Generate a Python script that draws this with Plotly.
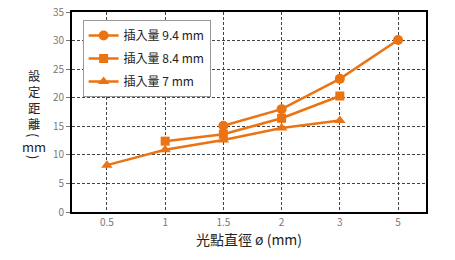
import plotly.graph_objects as go

categories = ["0.5", "1", "1.5", "2", "3", "5"]
s94_x = ["1.5", "2", "3", "5"]
s94_y = [15.1, 18.0, 23.3, 30.1]
s84_x = ["1", "1.5", "2", "3"]
s84_y = [12.4, 13.6, 16.4, 20.3]
s7_x = ["0.5", "1", "1.5", "2", "3"]
s7_y = [8.2, 10.9, 12.6, 14.7, 16.0]
names = ["插入量 9.4 mm", "插入量 8.4 mm", "插入量 7 mm"]

color = "#EC7311"
fig = go.Figure()
for i, (xs, ys, nm, sym, ms) in enumerate([(s94_x, s94_y, names[0], "circle", 10),
                                           (s84_x, s84_y, names[1], "square", 9),
                                           (s7_x, s7_y, names[2], "triangle-up", 10)]):
    fig.add_trace(go.Scatter(x=xs, y=ys, name=nm, mode="lines+markers", legendgroup=f"g{i}",
                             line=dict(color=color, width=2.5),
                             marker=dict(symbol=sym, size=ms, color=color)))

fig.update_layout(
    width=455, height=260, margin=dict(l=72, r=29, t=12, b=48, autoexpand=False),
    plot_bgcolor="white", paper_bgcolor="white",
    font=dict(family="Noto Sans CJK TC, Noto Sans, sans-serif", size=11, color="#222"),
    showlegend=True,
    legend=dict(x=0.03, y=0.96, xanchor="left", yanchor="top",
                bordercolor="#999", borderwidth=1, bgcolor="white",
                font=dict(size=12, color="#222"), tracegroupgap=4, itemwidth=30),
)
fig.update_xaxes(type="category", categoryorder="array", categoryarray=categories,
                 range=[-0.6, 5.48], showline=True, linecolor="black", linewidth=2, mirror=True,
                 showgrid=True, gridcolor="#444", griddash="3px,2px", gridwidth=1,
                 ticks="", tickfont=dict(size=10, color="#777"), automargin=False,
                 title=dict(text="光點直徑 ø (mm)", font=dict(size=14, color="#222"), standoff=7))
fig.update_yaxes(range=[0, 35], dtick=5, showline=True, linecolor="black", linewidth=2, mirror=True,
                 showgrid=True, gridcolor="#444", griddash="3px,2px", gridwidth=1,
                 ticks="outside", ticklen=4, tickcolor="#777", tickfont=dict(size=10, color="#777"),
                 zeroline=False, automargin=False)

# vertical y-axis title
def px2paper(px, py):
    return (px - 72) / 354, (212 - py) / 200

tx, ty = px2paper(34, 100)
fig.add_annotation(text="設<br>定<br>距<br>離", xref="paper", yref="paper", x=tx, y=ty,
                   showarrow=False, xanchor="center", yanchor="middle", borderpad=0,
                   font=dict(size=12.3, color="#222"))
for ch, py, ang in [("(", 135, 90), ("mm", 146, 0), (")", 157, 90)]:
    ax, ay = px2paper(34, py)
    fig.add_annotation(text=ch, xref="paper", yref="paper", x=ax, y=ay, showarrow=False,
                       xanchor="center", yanchor="middle", textangle=ang, borderpad=0,
                       font=dict(size=13, color="#222"))
fig.write_html("out.html")
